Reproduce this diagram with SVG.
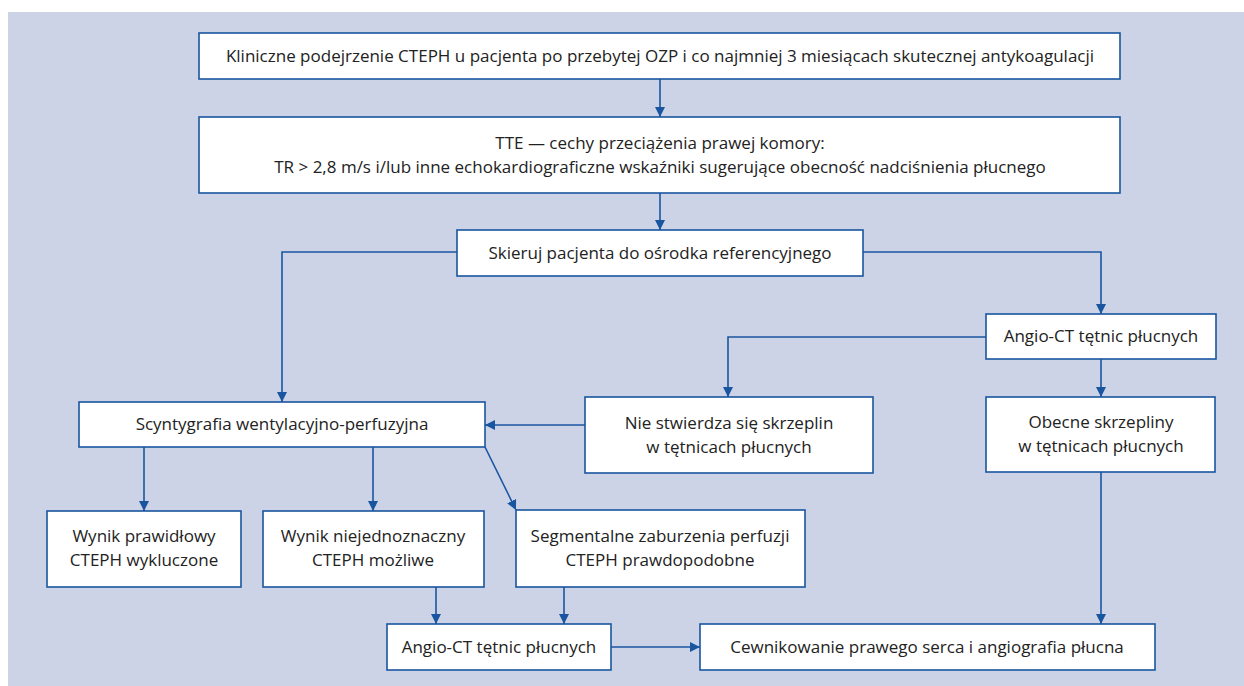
<svg xmlns="http://www.w3.org/2000/svg" width="1244" height="686" viewBox="0 0 1244 686">
<style>
.bg{fill:#cdd3e6}
.n{fill:#fff;stroke:#1a55a0;stroke-width:1.6}
.t{font-family:"Open Sans","Noto Sans",sans-serif;font-size:17px;fill:#222;text-anchor:middle}
.c{fill:none;stroke:#1a55a0;stroke-width:1.6}
</style>
<defs>
<marker id="ah" viewBox="0 0 10 10" refX="10" refY="5" markerWidth="10" markerHeight="10" markerUnits="userSpaceOnUse" orient="auto">
<path d="M0,0 L10,5 L0,10 z" fill="#1a55a0"/>
</marker>
</defs>
<rect class="bg" x="8" y="12" width="1236" height="674"/>
<g id="connectors">
<path class="c" d="M660,79 V117" marker-end="url(#ah)"/>
<path class="c" d="M660,193 V230" marker-end="url(#ah)"/>
<path class="c" d="M457,252 H282 V402" marker-end="url(#ah)"/>
<path class="c" d="M863,252 H1101 V314" marker-end="url(#ah)"/>
<path class="c" d="M986,337 H728 V397" marker-end="url(#ah)"/>
<path class="c" d="M1101,359 V397" marker-end="url(#ah)"/>
<path class="c" d="M585,425 H485" marker-end="url(#ah)"/>
<path class="c" d="M144,447 V511" marker-end="url(#ah)"/>
<path class="c" d="M373,447 V511" marker-end="url(#ah)"/>
<path class="c" d="M485,447 L516,510" marker-end="url(#ah)"/>
<path class="c" d="M436,587 V624" marker-end="url(#ah)"/>
<path class="c" d="M564,587 V624" marker-end="url(#ah)"/>
<path class="c" d="M611,647 H700" marker-end="url(#ah)"/>
<path class="c" d="M1101,472 V624" marker-end="url(#ah)"/>
</g>
<g id="n1"><rect class="n" x="199" y="33" width="921" height="46"/>
<text class="t" x="660" y="62">Kliniczne podejrzenie CTEPH u pacjenta po przebytej OZP i co najmniej 3 miesiącach skutecznej antykoagulacji</text></g>
<g id="n2"><rect class="n" x="199" y="117" width="921" height="76"/>
<text class="t" x="660" y="149">TTE — cechy przeciążenia prawej komory:</text>
<text class="t" x="660" y="173">TR &gt; 2,8 m/s i/lub inne echokardiograficzne wskaźniki sugerujące obecność nadciśnienia płucnego</text></g>
<g id="n3"><rect class="n" x="457" y="230" width="406" height="46"/>
<text class="t" x="660" y="259">Skieruj pacjenta do ośrodka referencyjnego</text></g>
<g id="n4"><rect class="n" x="986" y="314" width="230" height="45"/>
<text class="t" x="1101" y="342">Angio-CT tętnic płucnych</text></g>
<g id="n5"><rect class="n" x="986" y="397" width="229" height="75"/>
<text class="t" x="1101" y="428">Obecne skrzepliny</text>
<text class="t" x="1101" y="452">w tętnicach płucnych</text></g>
<g id="n6"><rect class="n" x="585" y="397" width="288" height="76"/>
<text class="t" x="729" y="429">Nie stwierdza się skrzeplin</text>
<text class="t" x="729" y="453">w tętnicach płucnych</text></g>
<g id="n7"><rect class="n" x="79" y="402" width="406" height="45"/>
<text class="t" x="282" y="430">Scyntygrafia wentylacyjno-perfuzyjna</text></g>
<g id="n8"><rect class="n" x="47" y="511" width="194" height="76"/>
<text class="t" x="144" y="542">Wynik prawidłowy</text>
<text class="t" x="144" y="566">CTEPH wykluczone</text></g>
<g id="n9"><rect class="n" x="263" y="511" width="221" height="76"/>
<text class="t" x="373" y="542">Wynik niejednoznaczny</text>
<text class="t" x="373" y="566">CTEPH możliwe</text></g>
<g id="n10"><rect class="n" x="516" y="510" width="289" height="77"/>
<text class="t" x="660" y="542">Segmentalne zaburzenia perfuzji</text>
<text class="t" x="660" y="566">CTEPH prawdopodobne</text></g>
<g id="n11"><rect class="n" x="387" y="624" width="224" height="46"/>
<text class="t" x="499" y="653">Angio-CT tętnic płucnych</text></g>
<g id="n12"><rect class="n" x="700" y="624" width="455" height="46"/>
<text class="t" x="927" y="653">Cewnikowanie prawego serca i angiografia płucna</text></g>
</svg>
